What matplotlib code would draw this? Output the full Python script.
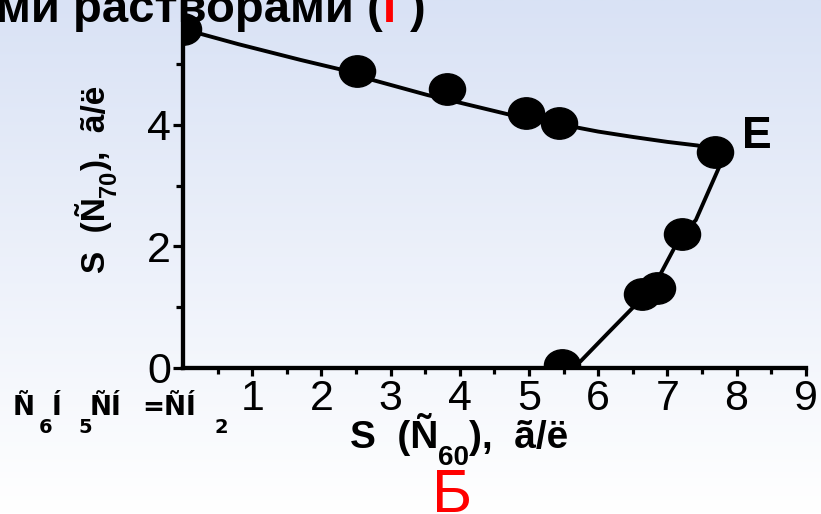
import numpy as np
import matplotlib
matplotlib.use('Agg')
import matplotlib.pyplot as plt
from matplotlib.path import Path
from matplotlib.transforms import Affine2D

plt.rcParams['font.family'] = ['Liberation Sans', 'DejaVu Sans']

# ------------------------------------------------------------
# Data
# ------------------------------------------------------------
# measured points
pt_x = [0.0, 2.51, 3.82, 4.96, 5.43, 7.69, 7.21, 6.85, 6.63, 5.47]
pt_y = [5.58, 4.88, 4.59, 4.19, 4.03, 3.56, 2.21, 1.31, 1.22, 0.04]

# hand-drawn guide curve through the points
curve_x = [0.0, 0.8, 1.7, 2.51, 2.74, 3.54, 3.95, 4.75, 5.43, 5.68, 6.0, 6.51, 7.0, 7.44, 7.69,
           7.75, 7.41, 7.21, 6.88, 6.57, 6.14, 5.74, 5.50]
curve_y = [5.58, 5.33, 5.07, 4.85, 4.74, 4.49, 4.38, 4.16, 4.01, 3.96, 3.89, 3.80, 3.72, 3.66, 3.56,
           3.31, 2.43, 2.21, 1.50, 1.07, 0.57, 0.10, 0.0]

x_ticks = [1, 2, 3, 4, 5, 6, 7, 8, 9]
y_ticks = [0, 2, 4]

title_main = 'ми растворами ('
title_red = 'Г'
title_end = ')'
# (text, is_subscript) pieces
xlabel_parts = [('S  (Ñ', False), ('60', True), ('),  ã/ë', False)]
ylabel_parts = [('S  (Ñ', False), ('70', True), ('),  ã/ë', False)]
formula_parts = [('Ñ', False), ('6', True), ('Í', False), ('5', True), ('ÑÍ', False),
                 ('=ÑÍ', False), ('2', True)]
formula_x = [13, 39, 52, 78, 90, 142, 214]   # pixel starts measured on the slide
point_label = 'E'
panel_label = 'Б'

# ------------------------------------------------------------
# Figure
# ------------------------------------------------------------
W, H = 821, 514
fig = plt.figure(figsize=(W / 100, H / 100), dpi=100)
renderer = fig.canvas.get_renderer()

# slide background: light blue at top fading to white
bg = fig.add_axes([0, 0, 1, 1], zorder=-10)
top = np.array([217, 226, 245]) / 255
bot = np.array([255, 255, 255]) / 255
t = np.linspace(0, 1, 256)[:, None]
grad = (top[None, :] * (1 - t) + bot[None, :] * t)[:, None, :]
bg.imshow(grad, aspect='auto', extent=[0, 1, 0, 1], origin='upper')
bg.axis('off')

x0, y0 = 183, 367.7          # pixel position of data origin
px_x, px_y = 69.2, 60.7      # pixels per unit
ax = fig.add_axes([x0 / W, (H - y0) / H, 9 * px_x / W, 6.06 * px_y / H])
ax.set_facecolor('none')
ax.set_xlim(0, 9)
ax.set_ylim(0, 6.06)

ax.plot(curve_x, curve_y, color='black', lw=2.8, solid_capstyle='round', zorder=3)
ell = Path.unit_circle().transformed(Affine2D().scale(1.15, 1.0))
ax.plot(pt_x, pt_y, ls='none', marker=ell, ms=26, color='black', zorder=4)

for s in ['top', 'right']:
    ax.spines[s].set_visible(False)
for s in ['left', 'bottom']:
    ax.spines[s].set_linewidth(3.1)

ax.set_xticks(x_ticks)
ax.set_xticks(np.arange(0.5, 9, 1.0), minor=True)
ax.set_yticks(y_ticks)
ax.set_yticks([1, 3, 5], minor=True)
ax.tick_params(axis='x', which='major', length=6, width=2.3, pad=2, labelsize=31)
ax.tick_params(axis='x', which='minor', length=4, width=2.3)
ax.tick_params(axis='y', which='major', length=7.5, width=2.3, pad=1, labelsize=31)
ax.tick_params(axis='y', which='minor', length=5, width=2.3)

ax.text(8.08, 3.62, point_label, fontsize=32, fontweight='bold', ha='left', va='baseline')


def chain(parts, x, y, size, sub_size, drop, rot=0, **kw):
    """Lay out text pieces one after another; x, y in pixels from top-left."""
    pos = 0.0
    for txt, sub in parts:
        d = drop if sub else 0
        if rot == 0:
            px, py = x + pos, y + d
        else:
            px, py = x + d, y - pos
        tt = fig.text(px / W, 1 - py / H, txt, fontsize=sub_size if sub else size,
                      rotation=rot, rotation_mode='anchor', ha='left', va='baseline',
                      fontweight='bold', **kw)
        bb = tt.get_window_extent(renderer)
        pos += bb.width if rot == 0 else bb.height


# axis labels
chain(xlabel_parts, 350, 448, 28, 20, 17)
chain(ylabel_parts, 105, 273, 24, 17, 11, rot=90)

# formula bottom left
for (txt, sub), fx in zip(formula_parts, formula_x):
    fig.text(fx / W, 1 - (433 if sub else 415) / H, txt,
             fontsize=14 if sub else 19, fontweight='bold', family='DejaVu Sans',
             ha='left', va='baseline')

# panel letter
fig.text(452 / W, 1 - 512 / H, panel_label, fontsize=44, color='#ff0000',
         ha='center', va='baseline')

# title fragment at the top (cut off by the slide crop)
t1 = fig.text(383 / W, 1 - 22 / H, title_main, fontsize=34, fontweight='bold',
              ha='right', va='baseline', zorder=1)
t2 = ax.annotate(title_red, xy=(1, 0), xycoords=t1, fontsize=34, fontweight='bold',
                 color='#ff0000', ha='left', va='bottom', annotation_clip=False)
ax.annotate(title_end, xy=(1, 0), xycoords=t2, fontsize=34, fontweight='bold',
            ha='left', va='bottom', annotation_clip=False)

fig.savefig('out.png', dpi=100)
